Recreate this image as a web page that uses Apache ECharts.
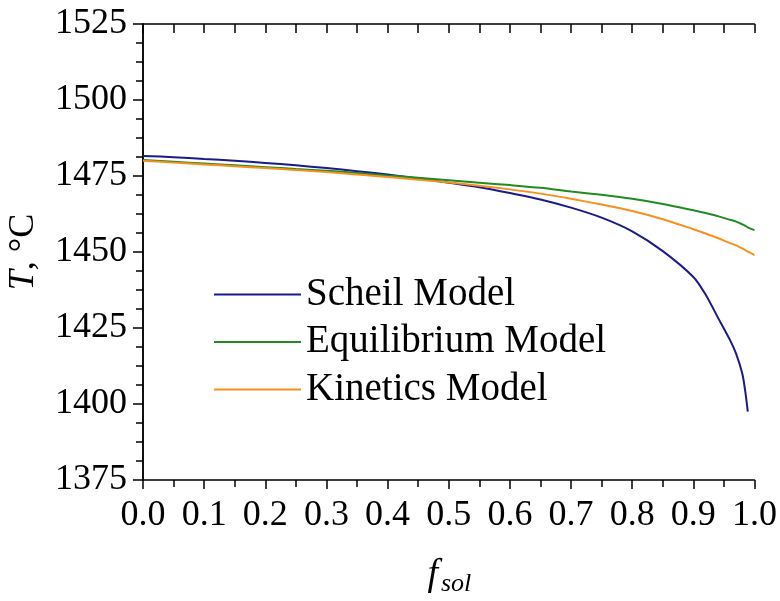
<!DOCTYPE html>
<html>
<head>
    <meta charset="UTF-8">
    <title>T vs fsol</title>
    <script src="https://cdn.jsdelivr.net/npm/echarts@6/dist/echarts.min.js"></script>
    <style>
        html, body { margin: 0; padding: 0; background: #fff; }
        #chart { width: 780px; height: 601px; }
    </style>
</head>
<body>
    <div id="chart"></div>
    <script>
        // solid fraction grid (Scheil stops just before 1.0)
        const fSol = [0, 0.05, 0.1, 0.15, 0.2, 0.25, 0.3, 0.35, 0.4, 0.45, 0.5, 0.55, 0.6, 0.65,
            0.7, 0.75, 0.8, 0.85, 0.9, 0.92, 0.94, 0.96, 0.97, 0.98, 0.985, 0.989, 1.0];

        const scheilT = [1481.6, 1481.2, 1480.6, 1480.0, 1479.3, 1478.5, 1477.6, 1476.6, 1475.5, 1474.2,
            1472.8, 1471.3, 1469.4, 1467.3, 1464.6, 1461.3, 1456.8, 1450.3, 1441.8, 1436.0, 1428.5,
            1421.0, 1416.5, 1410.0, 1404.0, 1397.5, null];
        const equilT = [1480.3, 1479.7, 1479.1, 1478.5, 1477.9, 1477.3, 1476.7, 1476.0, 1475.2, 1474.4,
            1473.6, 1472.8, 1472.0, 1471.1, 1469.9, 1468.8, 1467.5, 1465.8, 1463.7, 1462.8, 1461.8,
            1460.6, 1460.0, 1459.1, 1458.6, 1458.1, 1457.2];
        const kineticT = [1480.0, 1479.4, 1478.8, 1478.2, 1477.6, 1477.0, 1476.3, 1475.5, 1474.7, 1473.8,
            1472.9, 1471.8, 1470.6, 1469.2, 1467.5, 1465.6, 1463.5, 1460.8, 1457.5, 1456.1, 1454.6,
            1452.9, 1452.2, 1451.2, 1450.6, 1450.1, 1449.0];

        const seriesNames = ['Scheil Model', 'Equilibrium Model', 'Kinetics Model'];
        const seriesColors = ['#1a1a8c', '#218a21', '#f7901e'];
        const seriesT = [scheilT, equilT, kineticT];

        const font = 'Liberation Serif, Times New Roman, serif';

        function pairs(ys) {
            const out = [];
            fSol.forEach((f, i) => { if (ys[i] !== null) out.push([f, ys[i]]); });
            return out;
        }

        const chart = echarts.init(document.getElementById('chart'));

        const baseLabel = { fontFamily: font, fontSize: 36, color: '#000' };
        const axisLine = { lineStyle: { color: '#000', width: 1.5 } };
        const tickStyle = { color: '#000', width: 1.5 };

        chart.setOption({
            animation: false,
            grid: { left: 143, top: 24, width: 612, height: 456 },
            legend: {
                orient: 'vertical',
                left: 213,
                top: 275,
                padding: 0,
                itemWidth: 87,
                itemHeight: 20,
                itemGap: 8.5,
                itemStyle: { opacity: 0 },
                textStyle: { fontFamily: font, fontSize: 39, color: '#000' },
                data: seriesNames
            },
            xAxis: [{
                type: 'value', min: 0, max: 1, interval: 0.1,
                axisLine: axisLine,
                axisTick: { inside: false, length: 9, lineStyle: tickStyle },
                minorTick: { show: true, splitNumber: 2, length: 7, lineStyle: tickStyle },
                splitLine: { show: false },
                axisLabel: Object.assign({ margin: 18, formatter: v => v.toFixed(1) }, baseLabel)
            }, {
                type: 'value', min: 0, max: 1, interval: 0.1, position: 'top',
                axisLine: axisLine,
                axisTick: { inside: true, length: 9, lineStyle: tickStyle },
                minorTick: { show: true, splitNumber: 2, length: 9, lineStyle: tickStyle },
                splitLine: { show: false },
                axisLabel: { show: false }
            }],
            yAxis: [{
                type: 'value', min: 1375, max: 1525, interval: 25,
                axisLine: axisLine,
                axisTick: { inside: false, length: 10, lineStyle: tickStyle },
                minorTick: { show: true, splitNumber: 4, length: 5, lineStyle: tickStyle },
                splitLine: { show: false },
                axisLabel: Object.assign({ margin: 16, formatter: v => String(v) }, baseLabel)
            }, {
                type: 'value', min: 1375, max: 1525, interval: 25, position: 'right',
                axisLine: axisLine,
                axisTick: { inside: true, length: 7, lineStyle: tickStyle },
                minorTick: { show: true, splitNumber: 4, length: 7, lineStyle: tickStyle },
                splitLine: { show: false },
                axisLabel: { show: false }
            }],
            graphic: [
                {
                    type: 'text', x: 24, y: 252, rotation: Math.PI / 2,
                    style: {
                        text: '{i|T}, °C', align: 'center', verticalAlign: 'middle',
                        rich: {
                            i: { fontFamily: font, fontSize: 36, fontStyle: 'italic', fill: '#000' }
                        },
                        fontFamily: font, fontSize: 36, fill: '#000'
                    }
                },
                {
                    type: 'text', x: 438, y: 556,
                    style: {
                        text: 'f', fontFamily: font, fontSize: 38, fontStyle: 'italic',
                        fill: '#000', align: 'right', verticalAlign: 'top'
                    }
                },
                {
                    type: 'text', x: 441, y: 571,
                    style: {
                        text: 'sol', fontFamily: font, fontSize: 26, fontStyle: 'italic',
                        fill: '#000', align: 'left', verticalAlign: 'top'
                    }
                }
            ],
            series: seriesNames.map((name, k) => ({
                name: name,
                type: 'line',
                xAxisIndex: 0,
                yAxisIndex: 0,
                symbol: 'none',
                smooth: 0.3,
                data: pairs(seriesT[k]),
                lineStyle: { color: seriesColors[k], width: 2 },
                itemStyle: { color: seriesColors[k] }
            }))
        });

        window.addEventListener('resize', () => chart.resize());
    </script>
</body>
</html>
